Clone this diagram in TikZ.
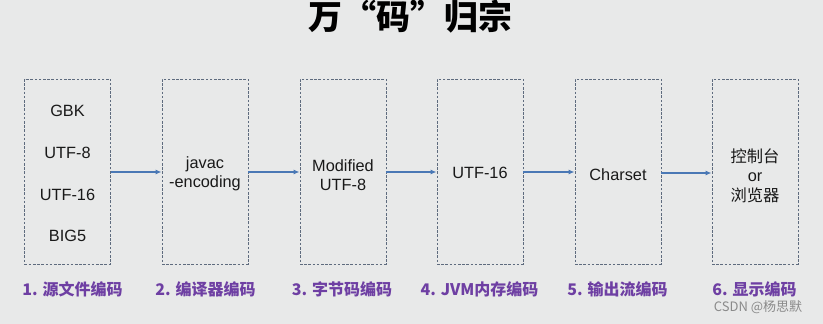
\documentclass[tikz,border=0pt]{standalone}
\usepackage{fontspec}
\setmainfont{Liberation Sans}
\newfontfamily\cjk{Noto Sans CJK SC}
\usetikzlibrary{arrows.meta}
\definecolor{bgc}{HTML}{E8E9E9}
\definecolor{boxc}{HTML}{5E6B7E}
\definecolor{arrc}{HTML}{4A78B5}
\definecolor{labc}{HTML}{6E3FA3}
\definecolor{wmc}{HTML}{8A8A8A}
\tikzset{
  stagebox/.style={draw=boxc, dash pattern=on 2.6pt off 1.6pt, line width=0.9pt,
    minimum width=86pt, minimum height=185pt, inner sep=0pt},
  boxtext/.style={font=\fontsize{16.3}{19.5}\selectfont, align=center, inner sep=0pt, text=black!90},
  arr/.style={draw=arrc, line width=1.5pt, -{Latex[length=6pt,width=5pt]}},
  stagelabel/.style={font=\cjk\bfseries\fontsize{16}{19}\selectfont, text=labc, inner sep=0pt},
}
\begin{document}
\begin{tikzpicture}[x=1pt,y=-1pt]
\fill[bgc] (0,0) rectangle (823,324);
\useasboundingbox (0,0) rectangle (823,324);
% title
\node[font=\cjk\bfseries\fontsize{34}{38}\selectfont, inner sep=0pt] (title) at (410,17) {万“码”归宗};
% boxes
\node[stagebox] (b1) at (67.5,171.5) {};
\node[stagebox] (b2) at (205,171.5) {};
\node[stagebox] (b3) at (343,171.5) {};
\node[stagebox] (b4) at (480,171.5) {};
\node[stagebox] (b5) at (618,171.5) {};
\node[stagebox] (b6) at (755,171.5) {};
% box texts
\node[boxtext] (t1a) at (67.5,111) {GBK};
\node[boxtext] (t1b) at (67.5,153) {UTF-8};
\node[boxtext] (t1c) at (67.5,195) {UTF-16};
\node[boxtext] (t1d) at (67.5,236) {BIG5};
\node[boxtext] (t2) at (205,174) {javac\\-encoding};
\node[boxtext] (t3) at (343,175) {Modified\\UTF-8};
\node[boxtext] (t4) at (480,173) {UTF-16};
\node[boxtext] (t5) at (618,175) {Charset};
\node[boxtext] (t6) at (755,175.5) {{\cjk 控制台}\\or\\{\cjk 浏览器}};
% arrows
\draw[arr] ([yshift=-0.5pt]b1.east) -- ([yshift=-0.5pt]b2.west);
\draw[arr] ([yshift=-0.5pt]b2.east) -- ([yshift=-0.5pt]b3.west);
\draw[arr] ([yshift=-0.5pt]b3.east) -- ([yshift=-0.5pt]b4.west);
\draw[arr] ([yshift=-0.5pt]b4.east) -- ([yshift=-0.5pt]b5.west);
\draw[arr] ([yshift=-1.5pt]b5.east) -- ([yshift=-1.5pt]b6.west);
% labels
\node[stagelabel] (l1) at (72.5,289) {1. 源文件编码};
\node[stagelabel] (l2) at (205.5,289) {2. 编译器编码};
\node[stagelabel] (l3) at (342,289) {3. 字节码编码};
\node[stagelabel] (l4) at (479.5,289) {4. JVM内存编码};
\node[stagelabel] (l5) at (617.5,289) {5. 输出流编码};
\node[stagelabel] (l6) at (754.5,289) {6. 显示编码};
% watermark
\node[font=\cjk\fontsize{13}{15}\selectfont, text=wmc, inner sep=0pt] (wm) at (758,307.5) {CSDN @杨思默};
\end{tikzpicture}
\end{document}
